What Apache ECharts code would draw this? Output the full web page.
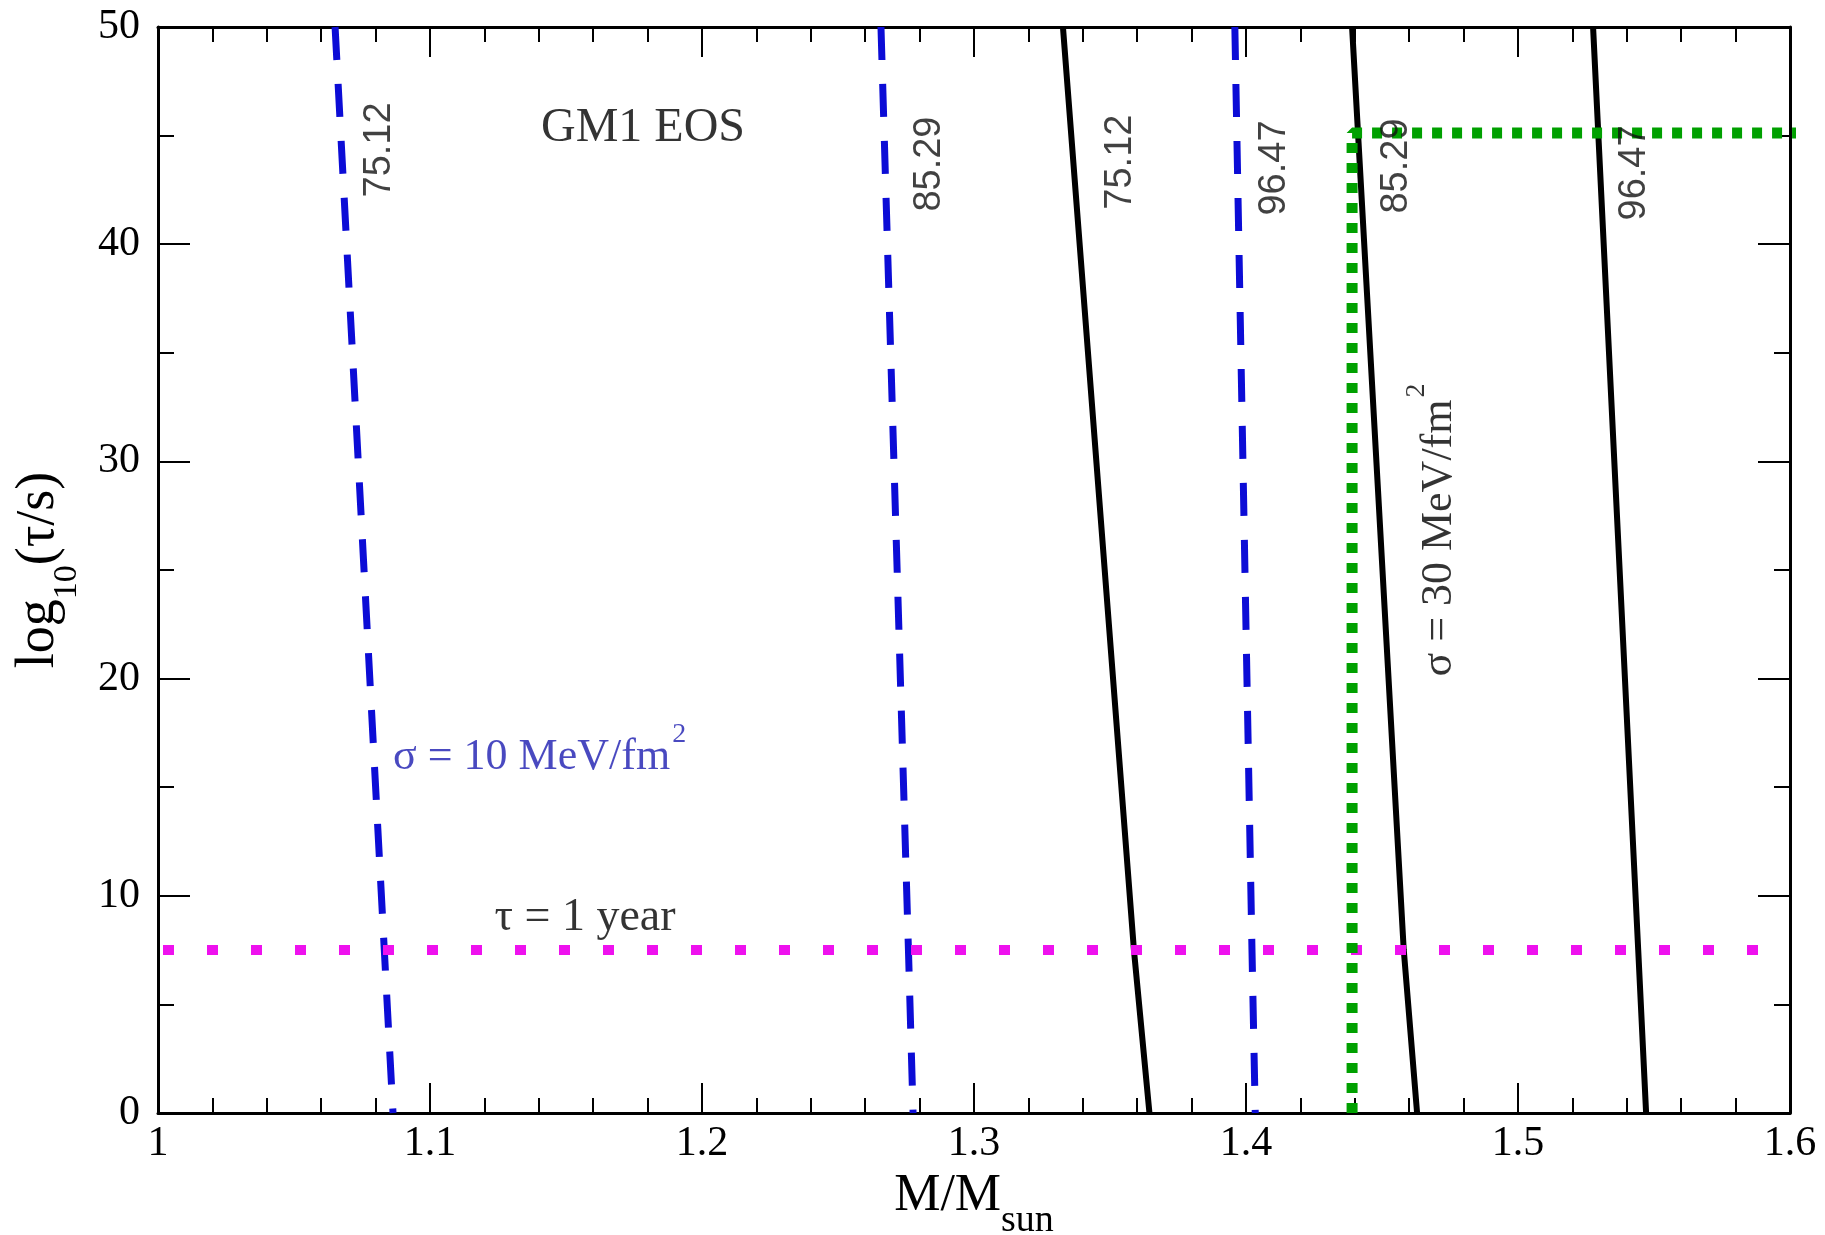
<!DOCTYPE html>
<html><head><meta charset="utf-8">
<script src="https://cdn.jsdelivr.net/npm/echarts@6/dist/echarts.min.js"></script>
<style>html,body{margin:0;padding:0;background:#fff}#c{width:1825px;height:1235px}</style>
</head><body><div id="c"></div>
<script>
// ---- data ----
const xTickLabels = ['1', '1.1', '1.2', '1.3', '1.4', '1.5', '1.6'];
const yTickLabels = ['0', '10', '20', '30', '40', '50'];
const logTau = [50, 7.5, 0];                       // log10(tau/s) sample points (top to bottom)
const sigma10Labels = ['75.12', '85.29', '96.47'];  // sigma = 10 MeV/fm^2 (blue dashed)
const sigma10Mass = [
  [1.0651, 1.0832, 1.0864],
  [1.2658, 1.2759, 1.2776],
  [1.3959, 1.4022, 1.4034]
];
const sigma30Labels = ['75.12', '85.29', '96.47'];  // sigma = 30 MeV/fm^2 (black solid)
const sigma30Mass = [
  [1.3327, 1.3588, 1.3645],
  [1.4390, 1.4580, 1.4629],
  [1.5276, 1.5442, 1.5471]
];
const oneYearLog = 7.5;
const oneYearMass = [1.0, 1.6];
const greenMass = [1.439, 1.439, 1.6026];
const greenLog = [0, 45.12, 45.12];
// label anchor points (data coords)
const sigma10LabelPos = [[1.0816, 44.34], [1.2838, 43.69], [1.4103, 43.51]];
const sigma30LabelPos = [[1.3540, 43.78], [1.4555, 43.60], [1.5430, 43.28]];

const serif = "'Liberation Serif','Times New Roman',serif";
const sans = "'Liberation Sans',Arial,sans-serif";

function tickFmt(list) {
  return function (v) {
    let best = list[0], bd = Infinity;
    list.forEach(function (s) { const d = Math.abs(parseFloat(s) - v); if (d < bd) { bd = d; best = s; } });
    return best;
  };
}

function axisCommon(extra) {
  return Object.assign({
    type: 'value',
    axisLine: { show: true, onZero: false, lineStyle: { color: '#000', width: 3 } },
    axisTick: { show: true, inside: true, lineStyle: { color: '#000', width: 2 } },
    minorTick: { show: true, lineStyle: { color: '#000', width: 2 } },
    splitLine: { show: false },
    minorSplitLine: { show: false }
  }, extra);
}

const series = [];
sigma10Mass.forEach(function (xs, i) {
  series.push({
    type: 'line', name: 's10_' + sigma10Labels[i], symbol: 'none', silent: true,
    data: xs.map(function (x, j) { return [x, logTau[j]]; }),
    lineStyle: { color: '#0c0cd6', width: 7, type: [33, 24], cap: 'butt' }
  });
});
sigma30Mass.forEach(function (xs, i) {
  series.push({
    type: 'line', name: 's30_' + sigma30Labels[i], symbol: 'none', silent: true,
    data: xs.map(function (x, j) { return [x, logTau[j]]; }),
    lineStyle: { color: '#000', width: 6 }
  });
});
series.push({
  type: 'line', name: 'year', symbol: 'none', silent: true,
  data: oneYearMass.map(function (x) { return [x, oneYearLog]; }),
  lineStyle: { color: '#ee11ee', width: 10, type: [11, 33], dashOffset: -5, cap: 'butt' }
});
series.push({
  type: 'line', name: 'green', symbol: 'none', silent: true, clip: false,
  data: greenMass.map(function (x, j) { return [x, greenLog[j]]; }),
  lineStyle: { color: '#00a000', width: 11, type: [10, 10], cap: 'butt' }
});

// annotations
const numLabel = { show: true, position: 'inside', rotate: 90, fontFamily: sans, fontSize: 38, color: '#111' };
const annData = [];
sigma10LabelPos.forEach(function (p, i) {
  annData.push({ value: p, label: Object.assign({ formatter: sigma10Labels[i] }, numLabel) });
});
sigma30LabelPos.forEach(function (p, i) {
  annData.push({ value: p, label: Object.assign({ formatter: sigma30Labels[i] }, numLabel) });
});
annData.push({ value: [1.1783, 45.35], label: { show: true, position: 'inside', formatter: 'GM1 EOS', fontFamily: serif, fontSize: 48, color: '#000' } });
annData.push({ value: [1.157, 9.0], label: { show: true, position: 'inside', formatter: 'τ = 1 year', fontFamily: serif, fontSize: 46, color: '#000' } });
annData.push({ value: [1.1403, 16.39], label: {
  show: true, position: 'inside', formatter: '{a|σ = 10 MeV/fm}{sup|2}',
  rich: {
    a: { fontFamily: serif, fontSize: 44, color: '#1c1cb0', verticalAlign: 'middle' },
    sup: { fontFamily: serif, fontSize: 28, color: '#1c1cb0', verticalAlign: 'middle', padding: [0, 0, 44, 2] }
  }
} });
annData.push({ value: [1.4713, 26.84], label: {
  show: true, position: 'inside', rotate: 90, formatter: '{a|σ = 30 MeV/fm}{sup|2}',
  rich: {
    a: { fontFamily: serif, fontSize: 44, color: '#000', verticalAlign: 'middle' },
    sup: { fontFamily: serif, fontSize: 28, color: '#000', verticalAlign: 'middle', padding: [0, 0, 46, 2] }
  }
} });
series.push({
  type: 'scatter', name: 'labels', symbolSize: 0, silent: true, clip: false,
  data: annData, z: 10
});

const option = {
  animation: false,
  backgroundColor: '#fff',
  grid: { left: 158, top: 27, right: 35, bottom: 122, containLabel: false, outerBoundsMode: 'none' },
  xAxis: [
    axisCommon({
      min: 1, max: 1.6, interval: 0.1, position: 'bottom',
      axisTick: { show: true, inside: true, length: 30, lineStyle: { color: '#000', width: 2 } },
      minorTick: { show: true, splitNumber: 5, length: 15, lineStyle: { color: '#000', width: 2 } },
      axisLabel: { show: true, fontFamily: serif, fontSize: 42, color: '#000', margin: 10,
        showMinLabel: true, showMaxLabel: true, formatter: tickFmt(xTickLabels) },
      name: '{a|M/M}{sub|sun}', nameLocation: 'middle', nameGap: 34,
      nameTextStyle: { rich: {
        a: { fontFamily: serif, fontSize: 52, color: '#000', verticalAlign: 'middle' },
        sub: { fontFamily: serif, fontSize: 38, color: '#000', verticalAlign: 'middle', padding: [50, 0, 0, 0] }
      } }
    }),
    axisCommon({
      min: 1, max: 1.6, interval: 0.1, position: 'top',
      axisTick: { show: true, inside: true, length: 30, lineStyle: { color: '#000', width: 2 } },
      minorTick: { show: true, splitNumber: 5, length: 15, lineStyle: { color: '#000', width: 2 } },
      axisLabel: { show: false }
    })
  ],
  yAxis: [
    axisCommon({
      min: 0, max: 50, interval: 10, position: 'left',
      axisTick: { show: true, inside: true, length: 32, lineStyle: { color: '#000', width: 2 } },
      minorTick: { show: true, splitNumber: 2, length: 16, lineStyle: { color: '#000', width: 2 } },
      axisLabel: { show: true, fontFamily: serif, fontSize: 42, color: '#000', margin: 18,
        showMinLabel: true, showMaxLabel: true, formatter: tickFmt(yTickLabels) },
      name: '{a|log}{sub|10}{a|(τ/s)}', nameLocation: 'middle', nameRotate: 90, nameGap: 74,
      nameTextStyle: { rich: {
        a: { fontFamily: serif, fontSize: 54, color: '#000', verticalAlign: 'middle' },
        sub: { fontFamily: serif, fontSize: 34, color: '#000', verticalAlign: 'middle', padding: [56, 0, 0, 0] }
      } }
    }),
    axisCommon({
      min: 0, max: 50, interval: 10, position: 'right',
      axisTick: { show: true, inside: true, length: 32, lineStyle: { color: '#000', width: 2 } },
      minorTick: { show: true, splitNumber: 2, length: 16, lineStyle: { color: '#000', width: 2 } },
      axisLabel: { show: false }
    })
  ],
  series: series
};

const chart = echarts.init(document.getElementById('c'), null, { renderer: 'canvas' });
chart.setOption(option);
</script>
</body></html>
